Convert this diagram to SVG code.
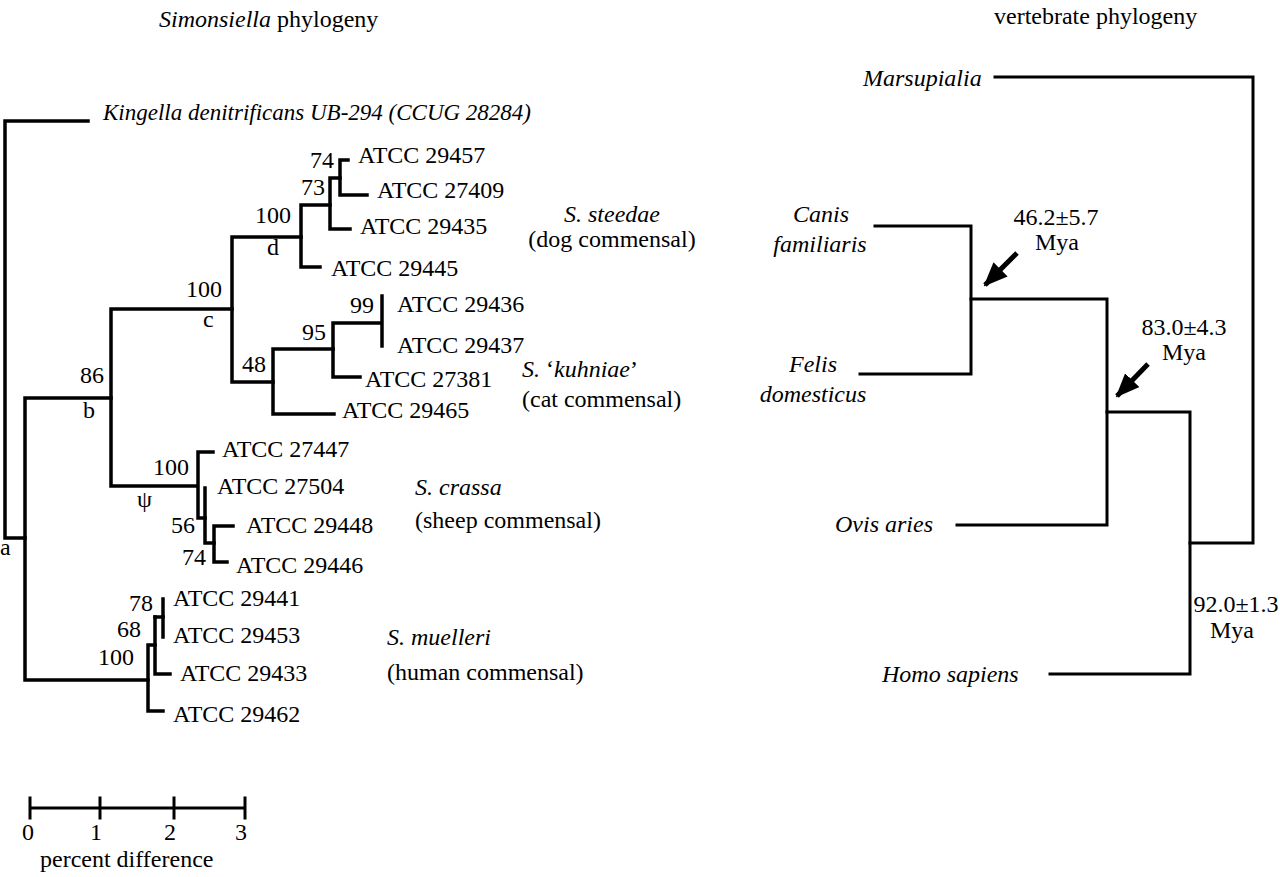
<svg xmlns="http://www.w3.org/2000/svg" width="1280" height="877" viewBox="0 0 1280 877">
<style>
text{font-family:"Liberation Serif","Times New Roman",Times,serif;font-size:24px;fill:#000}
.i{font-style:italic}
.m{text-anchor:middle}
.e{text-anchor:end}
.tl{fill:none;stroke:#000;stroke-width:3.5;stroke-linecap:square;stroke-linejoin:miter}
.tr{fill:none;stroke:#000;stroke-width:3;stroke-linecap:square;stroke-linejoin:miter}
.ar{stroke:#000;stroke-width:5;fill:none}
</style>
<defs>
<marker id="ah" markerUnits="userSpaceOnUse" markerWidth="24" markerHeight="20" refX="22" refY="10" orient="auto">
<path d="M0,0 L24,10 L0,20 Z" fill="#000"/>
</marker>
</defs>
<rect width="1280" height="877" fill="#fff"/>

<g id="titles">
<text x="159" y="27"><tspan class="i">Simonsiella</tspan> phylogeny</text>
<text x="994" y="24">vertebrate phylogeny</text>
</g>

<g id="connectors">
<path class="tl" d="M88,121 H5 V538 H25"/>
<path class="tl" d="M111,398 H25 V680 H148"/>
<path class="tl" d="M232,309 H111 V486 H197"/>
<path class="tl" d="M301,237 H232 V382 H273"/>
<path class="tl" d="M330,205 H301 V267 H320"/>
<path class="tl" d="M340,178 H330 V229 H350"/>
<path class="tl" d="M348,160 H340 V195 H367"/>
<path class="tl" d="M333,349 H273 V414 H334"/>
<path class="tl" d="M381,323 H333 V377 H360"/>
<path class="tl" d="M382,296 V346"/>
<path class="tl" d="M213,452 H198 V518 H205"/>
<path class="tl" d="M205,488 V543 H214"/>
<path class="tl" d="M233,526 H214 V562 H227"/>
<path class="tl" d="M163,711 H148 V645 H155"/>
<path class="tl" d="M155,617 V674 H170"/>
<path class="tl" d="M155,617 H163"/>
<path class="tl" d="M163,599 V637"/>
<path class="tr" d="M995,77 H1253 V543 H1190"/>
<path class="tr" d="M875,226 H971 V374 H860"/>
<path class="tr" d="M971,299 H1107 V525 H957"/>
<path class="tr" d="M1107,412 H1190 V674 H1050"/>
<line class="ar" x1="1017" y1="253" x2="985" y2="285" marker-end="url(#ah)"/>
<line class="ar" x1="1148" y1="364" x2="1117" y2="396" marker-end="url(#ah)"/>
</g>

<g id="node-kingella"><text class="i" x="103" y="120" style="font-size:23px">Kingella denitrificans UB-294 (CCUG 28284)</text></g>
<g id="node-29457"><text x="358" y="163">ATCC 29457</text></g>
<g id="node-27409"><text x="377" y="198">ATCC 27409</text></g>
<g id="node-29435"><text x="360" y="234">ATCC 29435</text></g>
<g id="node-29445"><text x="331" y="276">ATCC 29445</text></g>
<g id="node-29436"><text x="397" y="312">ATCC 29436</text></g>
<g id="node-29437"><text x="397" y="353">ATCC 29437</text></g>
<g id="node-27381"><text x="365" y="387">ATCC 27381</text></g>
<g id="node-29465"><text x="342" y="418">ATCC 29465</text></g>
<g id="node-27447"><text x="222" y="457">ATCC 27447</text></g>
<g id="node-27504"><text x="217" y="494">ATCC 27504</text></g>
<g id="node-29448"><text x="246" y="533">ATCC 29448</text></g>
<g id="node-29446"><text x="236" y="573">ATCC 29446</text></g>
<g id="node-29441"><text x="173" y="606">ATCC 29441</text></g>
<g id="node-29453"><text x="173" y="643">ATCC 29453</text></g>
<g id="node-29433"><text x="180" y="681">ATCC 29433</text></g>
<g id="node-29462"><text x="173" y="722">ATCC 29462</text></g>

<g id="support-labels">
<text class="e" x="334" y="168">74</text>
<text class="e" x="325" y="195">73</text>
<text class="e" x="291" y="223">100</text>
<text x="267" y="255">d</text>
<text class="e" x="222" y="297">100</text>
<text x="203" y="327">c</text>
<text class="e" x="104" y="383">86</text>
<text x="83" y="418">b</text>
<text class="e" x="266" y="372">48</text>
<text class="e" x="326" y="340">95</text>
<text class="e" x="374" y="313">99</text>
<text class="e" x="189" y="475">100</text>
<text x="137" y="507">ψ</text>
<text class="e" x="195" y="533">56</text>
<text class="e" x="206" y="565">74</text>
<text class="e" x="153" y="611">78</text>
<text class="e" x="141" y="637">68</text>
<text class="e" x="134" y="665">100</text>
<text x="0" y="555">a</text>
</g>

<g id="group-steedae">
<text class="m i" x="612" y="222">S. steedae</text>
<text class="m" x="612" y="247">(dog commensal)</text>
</g>
<g id="group-kuhniae">
<text x="522" y="377"><tspan class="i">S.</tspan> ‘<tspan class="i">kuhniae</tspan>’</text>
<text x="522" y="407">(cat commensal)</text>
</g>
<g id="group-crassa">
<text class="i" x="415" y="495">S. crassa</text>
<text x="415" y="528">(sheep commensal)</text>
</g>
<g id="group-muelleri">
<text class="i" x="387" y="645">S. muelleri</text>
<text x="387" y="680">(human commensal)</text>
</g>

<g id="scale-bar">
<path class="tl" d="M30,808 H245 M30,798 V818 M100,798 V818 M174,798 V818 M245,798 V818" style="stroke-width:3"/>
<text class="m" x="28" y="840">0</text>
<text class="m" x="96" y="840">1</text>
<text class="m" x="170" y="840">2</text>
<text class="m" x="241" y="840">3</text>
<text x="40" y="867">percent difference</text>
</g>

<g id="node-marsupialia"><text class="i" x="863" y="86">Marsupialia</text></g>
<g id="node-canis"><text class="i m" x="821" y="222">Canis</text><text class="i m" x="820" y="252">familiaris</text></g>
<g id="node-felis"><text class="i m" x="813" y="372">Felis</text><text class="i m" x="813" y="402">domesticus</text></g>
<g id="node-ovis"><text class="i" x="835" y="532">Ovis aries</text></g>
<g id="node-homo"><text class="i" x="882" y="682">Homo sapiens</text></g>

<g id="dates">
<text class="m" x="1056" y="225">46.2±5.7</text>
<text class="m" x="1057" y="250">Mya</text>
<text class="m" x="1184" y="335">83.0±4.3</text>
<text class="m" x="1184" y="360">Mya</text>
<text class="m" x="1236" y="612">92.0±1.3</text>
<text class="m" x="1232" y="638">Mya</text>
</g>
</svg>
